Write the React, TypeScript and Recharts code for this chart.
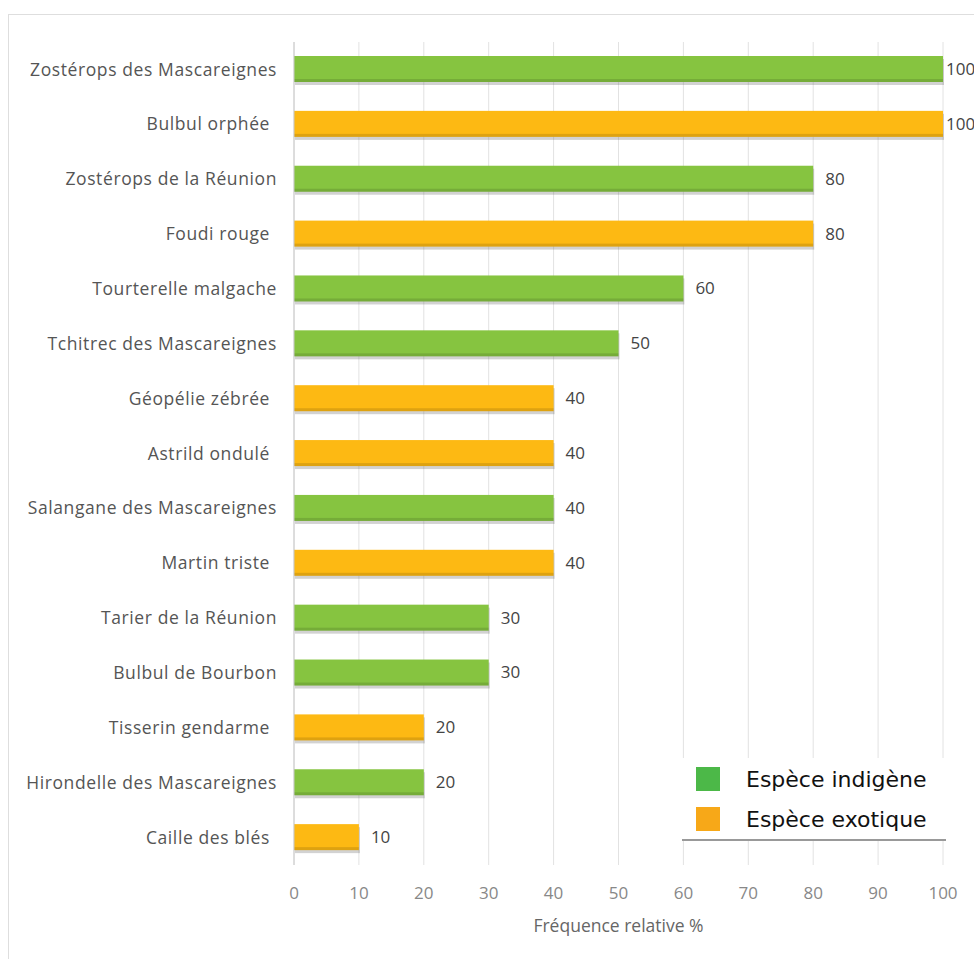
import { BarChart, Bar, XAxis, YAxis, CartesianGrid, Cell, LabelList } from "recharts";

const species = [
  "Zostérops des Mascareignes",
  "Bulbul orphée",
  "Zostérops de la Réunion",
  "Foudi rouge",
  "Tourterelle malgache",
  "Tchitrec des Mascareignes",
  "Géopélie zébrée",
  "Astrild ondulé",
  "Salangane des Mascareignes",
  "Martin triste",
  "Tarier de la Réunion",
  "Bulbul de Bourbon",
  "Tisserin gendarme",
  "Hirondelle des Mascareignes",
  "Caille des blés",
];

const frequency = [100, 100, 80, 80, 60, 50, 40, 40, 40, 40, 30, 30, 20, 20, 10];

// 1 = indigène, 0 = exotique
const native = [1, 0, 1, 0, 1, 1, 0, 0, 1, 0, 1, 1, 0, 1, 0];

const xTicks = [0, 10, 20, 30, 40, 50, 60, 70, 80, 90, 100];

const legendItems = ["Espèce indigène", "Espèce exotique"];

const GREEN = "#86c440";
const ORANGE = "#fdb913";
const FONT = "'Open Sans', sans-serif";

const data = species.map((name, i) => ({
  name,
  value: frequency[i],
  native: native[i],
}));

const ShadowBar = (props: any) => {
  const { x, y, width, height, fill } = props;
  if (!width || width <= 0) return null;
  return (
    <g>
      <rect x={x + 1} y={y + 3} width={width} height={height} fill="#6b6b6b" opacity={0.3} />
      <rect x={x} y={y} width={width} height={height} fill={fill} />
      <rect x={x} y={y + height - 3} width={width} height={3} fill="#000" opacity={0.12} />
    </g>
  );
};

const YTick = (props: any) => {
  const { x, y, payload, index } = props;
  const shift = native[index] === 0 ? 16 : 9;
  return (
    <text
      x={x - shift}
      y={y}
      dy="0.35em"
      textAnchor="end"
      fill="#555"
      fontSize={17.5}
      letterSpacing={0.6}
      fontFamily={FONT}
    >
      {payload.value}
    </text>
  );
};

const ValueLabel = (props: any) => {
  const { x, y, width, height, value } = props;
  const gap = value >= 100 ? 3 : 12;
  return (
    <text
      x={x + width + gap}
      y={y + height / 2}
      dy="0.35em"
      fill="#444"
      fontSize={17}
      fontFamily={FONT}
    >
      {value}
    </text>
  );
};

export default function App() {
  return (
    <div style={{ position: "absolute", left: 0, top: 0, width: 974, height: 959, background: "#fff", overflow: "hidden" }}>
      <div
        style={{
          position: "absolute",
          left: 8,
          top: 14,
          width: 1000,
          height: 1000,
          border: "1px solid #dedede",
        }}
      />
      <div style={{ position: "absolute", left: 0, top: 0 }}>
        <BarChart
          width={974}
          height={959}
          data={data}
          layout="vertical"
          margin={{ top: 42, right: 31, bottom: 24, left: 9 }}
        >
          <CartesianGrid horizontal={false} stroke="#e2e2e2" />
          <XAxis
            type="number"
            domain={[0, 100]}
            ticks={xTicks}
            axisLine={false}
            tickLine={false}
            tickSize={0}
            tickMargin={22}
            height={70}
            tick={{ fill: "#888", fontSize: 17, fontFamily: FONT }}
            label={{
              value: "Fréquence relative %",
              position: "insideBottom",
              offset: 3,
              fill: "#666",
              fontSize: 17.5,
              fontFamily: FONT,
            }}
          />
          <YAxis
            type="category"
            dataKey="name"
            width={285}
            axisLine={{ stroke: "#c8c8c8" }}
            tickLine={false}
            tick={<YTick />}
            interval={0}
          />
          <Bar dataKey="value" barSize={26} shape={<ShadowBar />} isAnimationActive={false}>
            {data.map((d, i) => (
              <Cell key={i} fill={d.native ? GREEN : ORANGE} />
            ))}
            <LabelList dataKey="value" content={<ValueLabel />} />
          </Bar>
        </BarChart>
      </div>
      <div
        style={{
          position: "absolute",
          left: 682,
          top: 758,
          width: 264,
          height: 83,
          background: "#fff",
          borderBottom: "2px solid #999",
          boxSizing: "border-box",
          paddingTop: 1,
          paddingLeft: 14,
          fontFamily: "'DejaVu Sans', sans-serif",
        }}
      >
        {legendItems.map((label, i) => (
          <div key={label} style={{ display: "flex", alignItems: "center", height: 40 }}>
            <span
              style={{
                display: "inline-block",
                width: 24,
                height: 24,
                background: i === 0 ? "#4cb848" : "#f7a818",
                marginRight: 26,
              }}
            />
            <span style={{ fontSize: 22, color: "#111" }}>{label}</span>
          </div>
        ))}
      </div>
    </div>
  );
}
